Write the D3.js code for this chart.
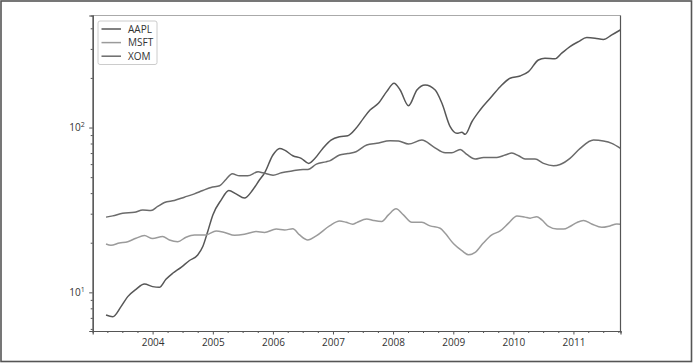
<!DOCTYPE html>
<html>
<head>
<meta charset="utf-8">
<script src="https://cdn.jsdelivr.net/npm/d3@7"></script>
<style>
  html, body { margin: 0; padding: 0; background: #fff; }
  svg { display: block; }
  text { font-family: "Open Sans", "DejaVu Sans", sans-serif; fill: #333; }
</style>
</head>
<body>
<svg id="chart" width="695" height="363"></svg>
<script>
// ---- Data (60-day rolling mean of closing prices) ----
const seriesNames = ["AAPL", "MSFT", "XOM"];

const aaplDates = ["2003-03-24","2003-05-04","2003-06-23","2003-08-03","2003-09-22","2003-11-12","2004-01-01","2004-02-11","2004-03-22","2004-05-02","2004-06-22","2004-08-12","2004-10-01","2004-11-01","2004-12-01","2005-01-01","2005-02-21","2005-04-08","2005-05-22","2005-07-12","2005-09-01","2005-10-12","2005-11-11","2006-01-01","2006-02-11","2006-03-13","2006-05-02","2006-06-22","2006-08-07","2006-09-10","2006-10-31","2006-12-20","2007-02-10","2007-04-01","2007-05-21","2007-07-05","2007-08-14","2007-10-04","2007-11-23","2008-01-07","2008-02-13","2008-04-04","2008-05-25","2008-07-14","2008-09-13","2008-10-24","2008-12-13","2009-01-23","2009-02-22","2009-03-14","2009-04-24","2009-06-13","2009-08-13","2009-10-13","2009-12-12","2010-02-11","2010-04-03","2010-06-02","2010-07-12","2010-09-11","2010-10-22","2010-12-11","2011-02-01","2011-03-23","2011-05-12","2011-07-02","2011-08-22","2011-10-14"];
const aaplValues = [7.28,7.12,8.19,9.42,10.43,11.23,10.83,10.72,12.0,13.05,14.19,15.6,16.86,18.97,23.4,29.5,36.4,41.5,39.6,37.3,41.9,48.2,52.9,68.1,74.7,73.0,67.4,65.0,60.6,64.4,74.7,83.9,87.9,89.1,98.9,113.7,127.7,140.3,165.1,185.7,169.0,135.7,169.0,181.2,169.0,140.3,101.2,92.2,93.5,90.9,108.4,127.7,150.5,177.0,199.0,205.6,218.4,257.0,263.5,261.0,282.5,310.0,332.4,351.6,348.6,341.8,364.8,391.5];

const msftDates = ["2003-03-24","2003-04-23","2003-06-13","2003-08-03","2003-09-22","2003-11-12","2004-01-01","2004-03-02","2004-04-12","2004-06-02","2004-07-22","2004-09-11","2004-11-20","2005-01-21","2005-03-13","2005-05-13","2005-07-12","2005-09-21","2005-11-11","2006-01-21","2006-03-13","2006-05-02","2006-06-12","2006-08-01","2006-09-21","2006-12-11","2007-02-10","2007-03-22","2007-05-01","2007-05-25","2007-07-25","2007-09-04","2007-10-24","2007-12-04","2008-01-19","2008-03-04","2008-04-24","2008-06-24","2008-08-13","2008-10-13","2008-11-13","2009-01-03","2009-02-22","2009-04-03","2009-05-14","2009-07-04","2009-08-23","2009-10-13","2009-12-03","2010-01-23","2010-03-13","2010-04-13","2010-05-23","2010-06-23","2010-08-03","2010-09-23","2010-11-02","2010-12-11","2011-01-21","2011-03-03","2011-04-22","2011-06-22","2011-08-11","2011-09-21","2011-10-14"];
const msftValues = [19.66,19.3,19.9,20.3,21.3,22.1,21.2,21.8,20.8,20.3,21.6,22.3,22.3,23.6,23.1,22.2,22.5,23.4,23.1,24.2,23.9,24.3,22.3,20.8,22.0,25.3,27.1,26.6,25.9,26.5,27.9,27.3,26.9,29.5,32.1,29.5,26.6,26.6,25.3,24.5,22.8,19.7,17.9,16.9,17.5,20.0,22.3,23.6,26.3,29.1,28.6,28.2,28.8,27.5,25.1,24.2,24.2,25.1,26.5,27.3,26.0,24.8,25.3,26.0,25.9];

const xomDates = ["2003-03-24","2003-05-04","2003-07-03","2003-09-13","2003-11-02","2003-12-22","2004-02-01","2004-03-13","2004-05-12","2004-07-12","2004-09-11","2004-11-01","2004-12-21","2005-02-11","2005-03-23","2005-04-29","2005-06-12","2005-08-01","2005-10-03","2005-11-02","2006-01-02","2006-02-22","2006-05-03","2006-07-03","2006-08-02","2006-09-22","2006-11-19","2006-12-12","2007-02-10","2007-04-01","2007-05-21","2007-07-25","2007-09-24","2007-12-14","2008-02-03","2008-04-04","2008-06-24","2008-09-03","2008-11-13","2008-12-23","2009-02-12","2009-03-24","2009-05-14","2009-07-04","2009-09-23","2009-11-12","2009-12-23","2010-02-02","2010-03-13","2010-05-13","2010-07-03","2010-09-02","2010-10-12","2010-12-11","2011-02-11","2011-05-03","2011-07-02","2011-08-22","2011-10-14"];
const xomValues = [28.6,29.1,30.2,30.6,31.6,31.4,33.2,35.1,36.1,37.8,39.6,41.5,43.3,44.3,48.6,52.4,50.9,50.9,53.9,53.1,51.4,53.1,54.6,55.7,55.7,60.0,61.9,62.8,68.1,69.5,71.3,78.3,80.2,83.1,82.8,79.4,83.9,76.4,70.3,70.3,73.7,68.7,64.4,65.9,65.9,68.1,70.0,67.4,64.4,64.4,60.6,58.6,59.7,65.0,74.7,83.9,82.8,80.2,74.7];

const xStart = "2003-01-02", xEnd = "2011-10-14";
const xTickYears = [2004, 2005, 2006, 2007, 2008, 2009, 2010, 2011];
const yTickExps = [1, 2];
const colors = { AAPL: "#575757", MSFT: "#9b9b9b", XOM: "#6b6b6b" };

// ---- Layout ----
const svg = d3.select("#chart");
const pL = 92.7, pR = 620.5, pT = 15.5, pB = 331;
const parse = d3.timeParse("%Y-%m-%d");

const x = d3.scaleTime().domain([parse(xStart), parse(xEnd)]).range([pL, pR]);
const allVals = aaplValues.concat(msftValues, xomValues);
const lmin = Math.log10(d3.min(allVals)), lmax = Math.log10(d3.max(allVals));
const pad = (lmax - lmin) * 0.05;
const y = d3.scaleLog().domain([Math.pow(10, lmin - pad), Math.pow(10, lmax + pad)]).range([pB, pT]);

// outer frame
svg.append("rect").attr("x", 1).attr("y", 1).attr("width", 690.5).attr("height", 360.5)
  .attr("fill", "none").attr("stroke", "#555").attr("stroke-width", 1.6);

// lines
const series = [
  { name: "AAPL", dates: aaplDates, values: aaplValues },
  { name: "MSFT", dates: msftDates, values: msftValues },
  { name: "XOM", dates: xomDates, values: xomValues }
];
const line = d3.line().x(d => x(d[0])).y(d => y(d[1])).curve(d3.curveMonotoneX);
const plot = svg.append("g");
series.forEach(s => {
  const pts = s.dates.map((d, i) => [parse(d), s.values[i]]);
  plot.append("path").attr("d", line(pts)).attr("fill", "none")
    .attr("stroke", colors[s.name]).attr("stroke-width", 1.5).attr("stroke-linejoin", "round");
});

// spines
svg.append("line").attr("x1", pL).attr("x2", pR).attr("y1", pT).attr("y2", pT).attr("stroke", "#aaa").attr("stroke-width", 1);
svg.append("line").attr("x1", pR).attr("x2", pR).attr("y1", pT).attr("y2", pB).attr("stroke", "#555").attr("stroke-width", 1.2);

// x axis
const xMajor = xTickYears.map(yr => new Date(yr, 0, 1));
const xMinor = d3.timeMonth.every(3).range(parse(xStart), parse(xEnd)).filter(d => d.getMonth() !== 0);
const xAxisMinor = d3.axisBottom(x).tickValues(xMinor).tickSize(2).tickFormat("");
const xAxis = d3.axisBottom(x).tickValues(xMajor).tickSize(3.5).tickPadding(4).tickFormat(d3.timeFormat("%Y"));
const gxm = svg.append("g").attr("transform", `translate(0,${pB})`).call(xAxisMinor);
const gx = svg.append("g").attr("transform", `translate(0,${pB})`).call(xAxis);
[gx, gxm].forEach(g => {
  g.select(".domain").attr("stroke", "#555").attr("stroke-width", 1.2);
  g.selectAll(".tick line").attr("stroke", "#555");
});
gx.selectAll("text").attr("font-size", 10).attr("fill", "#333").attr("font-family", '"Open Sans", sans-serif');

// y axis
const [d0, d1] = y.domain();
const yMinor = [];
for (let e = Math.floor(Math.log10(d0)); e <= Math.ceil(Math.log10(d1)); e++) {
  for (let m = 2; m <= 9; m++) { const v = m * Math.pow(10, e); if (v >= d0 && v <= d1) yMinor.push(v); }
}
const yAxisMinor = d3.axisLeft(y).tickValues(yMinor).tickSize(2).tickFormat("");
const yAxis = d3.axisLeft(y).tickValues(yTickExps.map(e => Math.pow(10, e))).tickSize(3.5).tickFormat("");
const gym = svg.append("g").attr("transform", `translate(${pL},0)`).call(yAxisMinor);
const gy = svg.append("g").attr("transform", `translate(${pL},0)`).call(yAxis);
[gy, gym].forEach(g => {
  g.select(".domain").attr("stroke", "#555").attr("stroke-width", 1.2);
  g.selectAll(".tick line").attr("stroke", "#555");
});
yTickExps.forEach(e => {
  const t = svg.append("text").attr("x", pL - 8).attr("y", y(Math.pow(10, e)) + 3.5)
    .attr("text-anchor", "end").attr("font-size", 10).attr("fill", "#333");
  t.append("tspan").text("10");
  t.append("tspan").text(String(e)).attr("font-size", 7).attr("dy", -4);
});

// legend
const lg = svg.append("g");
lg.append("rect").attr("x", 98).attr("y", 21).attr("width", 59).attr("height", 43.5)
  .attr("rx", 2).attr("fill", "#fff").attr("fill-opacity", 0.85).attr("stroke", "#ccc").attr("stroke-width", 1);
seriesNames.forEach((n, i) => {
  const cy = 29 + i * 13.6;
  lg.append("line").attr("x1", 101.5).attr("x2", 121).attr("y1", cy).attr("y2", cy)
    .attr("stroke", colors[n]).attr("stroke-width", 1.5);
  lg.append("text").attr("x", 128).attr("y", cy + 3.6).attr("font-size", 10).attr("fill", "#222").text(n);
});
</script>
</body>
</html>
